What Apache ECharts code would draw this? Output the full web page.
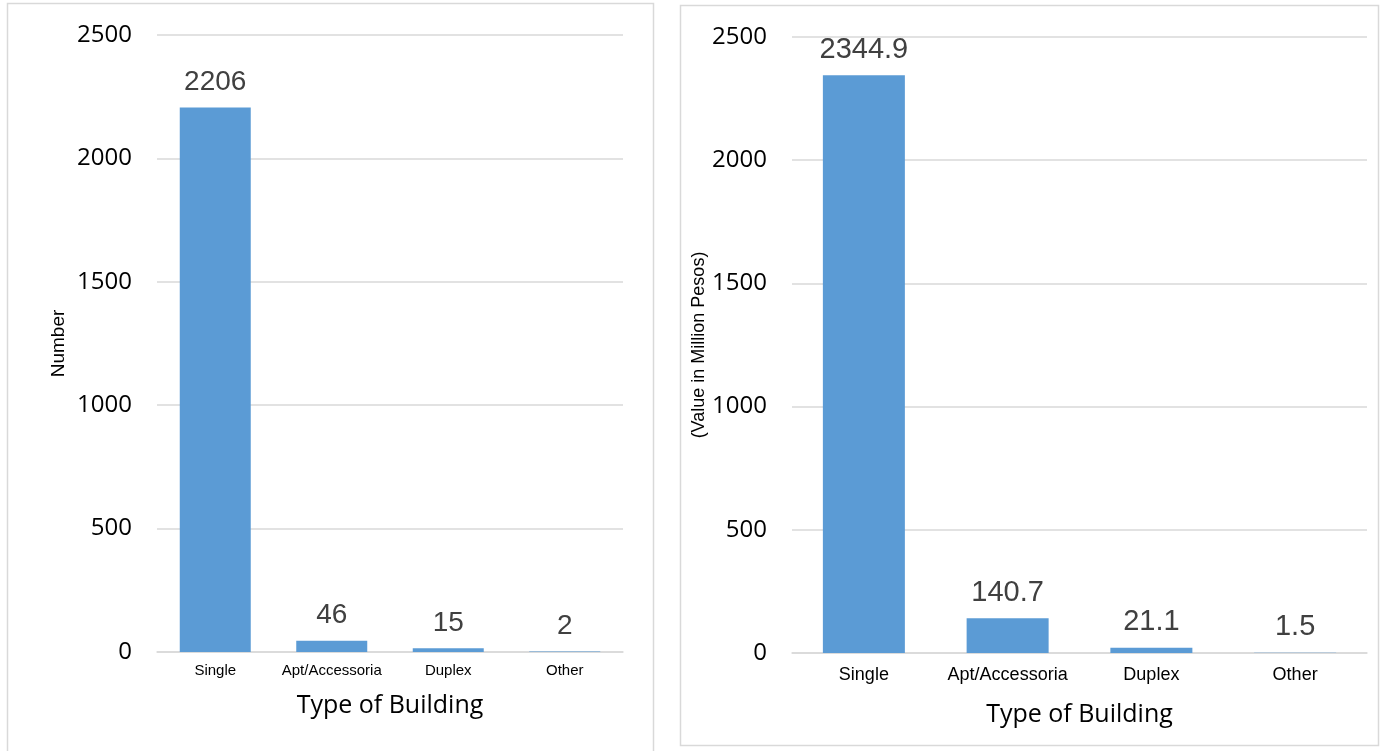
<!DOCTYPE html>
<html>
<head>
<meta charset="utf-8">
<script src="https://cdn.jsdelivr.net/npm/echarts@6/dist/echarts.min.js"></script>
<style>
  html, body { margin: 0; padding: 0; background: #fff; }
  #main { width: 1380px; height: 751px; }
</style>
</head>
<body>
<div id="main"></div>
<script>
// data
var buildingTypes = ['Single', 'Apt/Accessoria', 'Duplex', 'Other'];
var countValues = [2206, 46, 15, 2];
var valueMillions = [2344.9, 140.7, 21.1, 1.5];
var countLabels = ['2206', '46', '15', '2'];
var valueLabels = ['2344.9', '140.7', '21.1', '1.5'];

var barColor = '#5b9bd5';
var gridColor = '#d9d9d9';
var textColor = '#404040';

function valueAxis(idx, name, gap, nameSize) {
    return {
        type: 'value',
        gridIndex: idx,
        min: 0,
        max: 2500,
        interval: 500,
        name: name,
        nameLocation: 'middle',
        nameGap: gap,
        nameTextStyle: { fontFamily: 'Liberation Sans', fontSize: nameSize, color: '#000' },
        axisLine: { show: false },
        axisTick: { show: false },
        axisLabel: {
            fontFamily: 'Open Sans', fontSize: 24, color: '#000', margin: 25,
            formatter: function (v) { return String(v); }
        },
        splitLine: { lineStyle: { color: gridColor, width: 1.5 } }
    };
}

function catAxis(idx, fs, margin, gap) {
    return {
        type: 'category',
        gridIndex: idx,
        data: buildingTypes,
        name: 'Type of Building',
        nameLocation: 'middle',
        nameGap: gap,
        nameTextStyle: { fontFamily: 'Open Sans', fontSize: 25, color: '#000' },
        axisLine: { lineStyle: { color: gridColor, width: 1.5 } },
        axisTick: { show: false },
        axisLabel: { fontFamily: 'Liberation Sans', fontSize: fs, color: '#000', margin: margin, interval: 0 }
    };
}

function barSeries(idx, data, labels, width, fs) {
    return {
        type: 'bar',
        xAxisIndex: idx,
        yAxisIndex: idx,
        data: data,
        barWidth: width,
        itemStyle: { color: barColor },
        label: {
            show: true,
            position: 'top',
            distance: 11,
            fontFamily: 'Liberation Sans',
            fontSize: fs,
            color: textColor,
            formatter: function (p) { return labels[p.dataIndex]; }
        }
    };
}

var myChart = echarts.init(document.getElementById('main'));
var option = {
    animation: false,
    graphic: [
        { type: 'rect', shape: { x: 7.5, y: 3.5, width: 646, height: 760 }, style: { fill: 'none', stroke: gridColor, lineWidth: 1.5 } },
        { type: 'rect', shape: { x: 680.5, y: 5.5, width: 698, height: 740 }, style: { fill: 'none', stroke: gridColor, lineWidth: 1.5 } }
    ],
    grid: [
        { left: 157, right: 757, top: 35, bottom: 99 },
        { left: 792, right: 13, top: 37, bottom: 98 }
    ],
    xAxis: [catAxis(0, 15, 11, 41), catAxis(1, 18, 13, 49)],
    yAxis: [valueAxis(0, 'Number', 89, 19), valueAxis(1, '(Value in Million Pesos)', 81, 18)],
    series: [
        barSeries(0, countValues, countLabels, 71, 28),
        barSeries(1, valueMillions, valueLabels, 82, 29)
    ]
};
myChart.setOption(option);
</script>
</body>
</html>
